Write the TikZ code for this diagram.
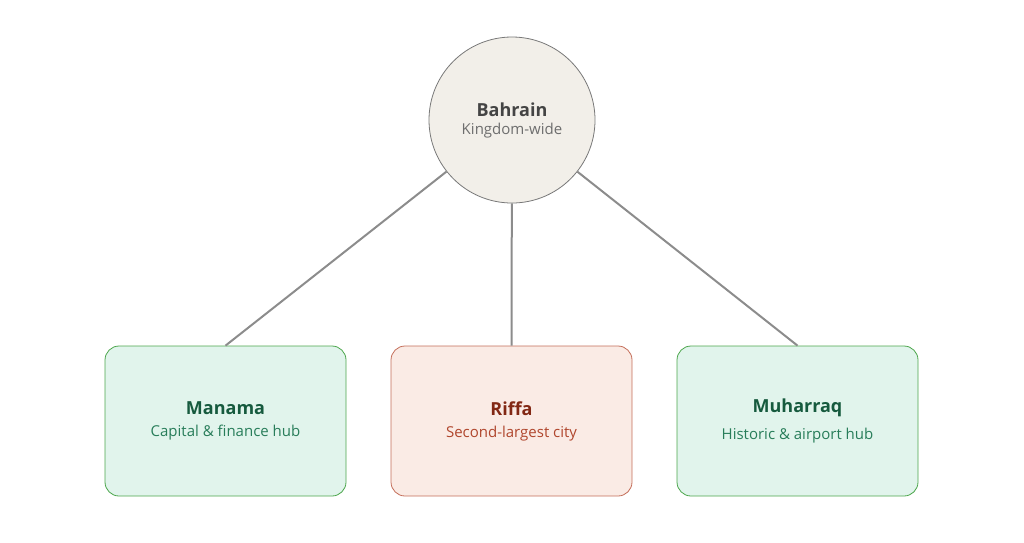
\documentclass[tikz,border=0pt]{standalone}
\usepackage{fontspec}
\setmainfont{Open Sans}
\begin{document}
\begin{tikzpicture}[x=1pt,y=-1pt,
  box/.style={rounded corners=14pt,minimum width=241pt,minimum height=150pt,line width=0.8pt,align=center},
  green/.style={box,draw=green!50!black!70!white,fill={rgb,255:red,225;green,244;blue,236}},
  red/.style={box,draw={rgb,255:red,196;green,110;blue,90},fill={rgb,255:red,250;green,235;blue,229}},
  link/.style={draw={rgb,255:red,140;green,140;blue,140},line width=2pt}]
\definecolor{gt}{RGB}{22,90,62}\definecolor{gs}{RGB}{40,125,90}
\definecolor{rt}{RGB}{130,40,20}\definecolor{rs}{RGB}{176,70,45}
\useasboundingbox (0,0) rectangle (1024,542);
\node[circle,minimum size=166pt,draw={rgb,255:red,120;green,120;blue,120},line width=0.8pt,fill={rgb,255:red,242;green,239;blue,233},align=center] (b) at (512,120)
 {\fontsize{18}{22}\selectfont\bfseries\color[RGB]{68,68,68}Bahrain\\[6pt]\fontsize{15}{18}\selectfont\color[RGB]{110,110,110}Kingdom-wide};
\node[green] (m) at (225.5,421) {\fontsize{18}{22}\selectfont\bfseries\color{gt}Manama\\[10pt]\fontsize{15}{18}\selectfont\color{gs}Capital \& finance hub};
\node[red] (r) at (511.5,421) {\fontsize{18}{22}\selectfont\bfseries\color{rt}Riffa\\[10pt]\fontsize{15}{18}\selectfont\color{rs}Second-largest city};
\node[green] (h) at (797.5,421) {\fontsize{18}{22}\selectfont\bfseries\color{gt}Muharraq\\[10pt]\fontsize{15}{18}\selectfont\color{gs}Historic \& airport hub};
\draw[link] (b) -- (m.north);
\draw[link] (b) -- (r.north);
\draw[link] (b) -- (h.north);
\end{tikzpicture}
\end{document}
